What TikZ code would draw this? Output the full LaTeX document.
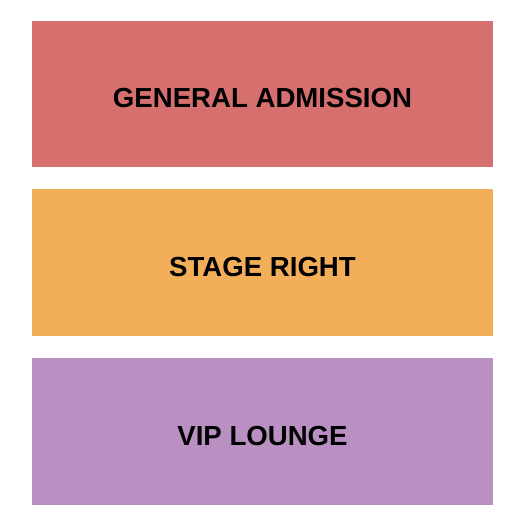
\documentclass[tikz,border=0pt]{standalone}
\usepackage{fontspec}
\setmainfont{Liberation Sans}
\definecolor{gared}{RGB}{214,112,110}
\definecolor{stageorange}{RGB}{242,174,88}
\definecolor{vippurple}{RGB}{185,144,193}
\tikzset{
  section/.style={draw=none, inner sep=0pt, minimum width=461pt},
  sectionlabel/.style={inner sep=0pt, font=\fontsize{27.6}{30}\selectfont\bfseries, text=black},
}
\begin{document}
\begin{tikzpicture}[x=1pt,y=-1pt]
\useasboundingbox[fill=white] (0,0) rectangle (525,525);
\node[section, fill=gared, minimum height=146pt] (ga) at (262.5,94) {};
\node[section, fill=stageorange, minimum height=147pt] (sr) at (262.5,262.5) {};
\node[section, fill=vippurple, minimum height=147pt] (vip) at (262.5,431.5) {};
\node[sectionlabel] (galabel) at ([yshift=-3.5pt]ga.center) {GENERAL ADMISSION};
\node[sectionlabel] (srlabel) at ([yshift=-4pt]sr.center) {STAGE RIGHT};
\node[sectionlabel] (viplabel) at ([yshift=-4pt]vip.center) {VIP LOUNGE};
\end{tikzpicture}
\end{document}
